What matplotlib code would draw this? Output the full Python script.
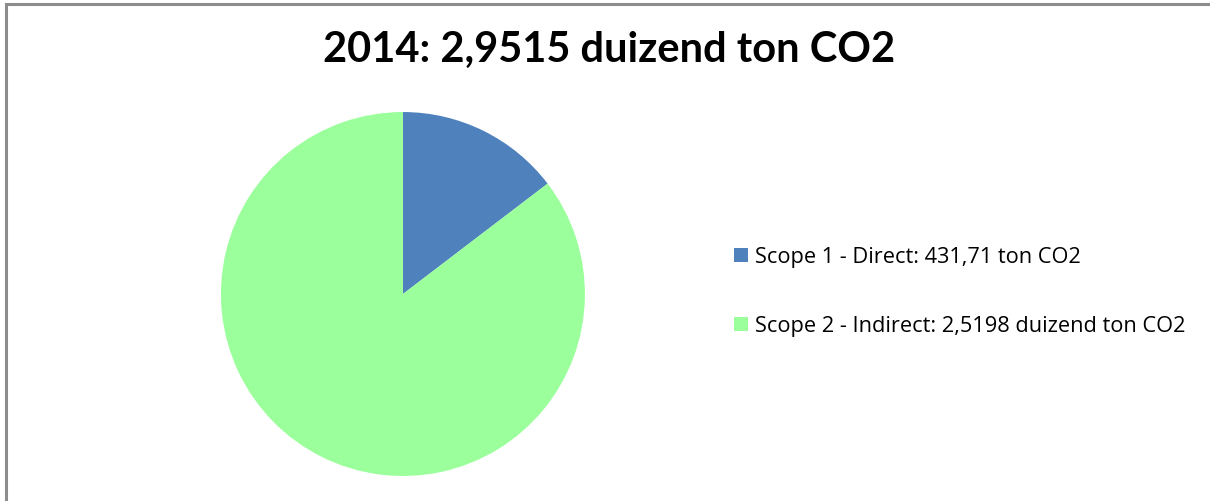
import matplotlib
matplotlib.use('Agg')
import matplotlib.pyplot as plt
from matplotlib.patches import Rectangle

plt.rcParams['font.family'] = ['Lato', 'DejaVu Sans']

# data
labels = ['Scope 1 - Direct: 431,71 ton CO2',
          'Scope 2 - Indirect: 2,5198 duizend ton CO2']
values = [431.71, 2519.8]
colors = ['#4F81BD', '#9BFF9B']
title = '2014: 2,9515 duizend ton CO2'

fig = plt.figure(figsize=(12.1, 5.01), dpi=100)

# grey chart frame (top and left edges visible)
fig.patches.append(Rectangle((6 / 1210, -0.1), 1.2, (501 - 4) / 501 + 0.1,
                             transform=fig.transFigure, fill=False,
                             edgecolor='#8c8c8c', linewidth=2.2))

ax = fig.add_axes([0.1826, 0.0499, 0.3008, 0.7265])
wedges, _ = ax.pie(values, colors=colors, startangle=90, counterclock=False,
                   radius=1.0, wedgeprops=dict(linewidth=0))
ax.set_xlim(-1, 1)
ax.set_ylim(-1, 1)
ax.set_aspect('equal')

fig.text(0.503, 0.90, title, ha='center', va='center',
         fontsize=30, fontweight='bold', color='black')

fig.legend(wedges, labels, loc='center left', bbox_to_anchor=(0.598, 0.417),
           frameon=False, handlelength=0.62, handleheight=0.62,
           handletextpad=0.3, labelspacing=2.2, borderpad=0,
           prop={'family': ['Open Sans', 'DejaVu Sans'], 'size': 15.7})

fig.savefig('out.png', dpi=100)
